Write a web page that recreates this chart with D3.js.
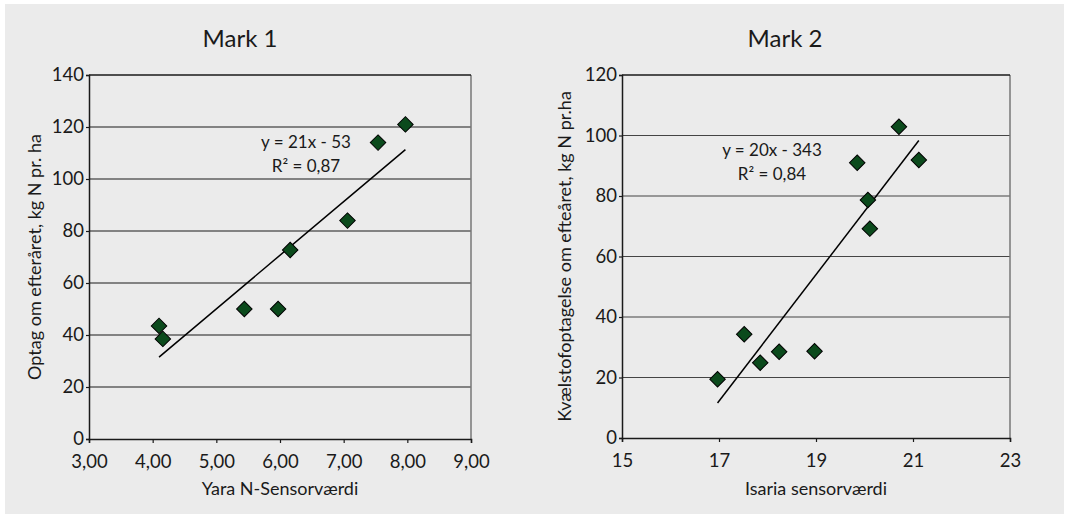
<!DOCTYPE html>
<html>
<head>
<meta charset="utf-8">
<script src="https://cdn.jsdelivr.net/npm/d3@7"></script>
<style>
  body { margin: 0; background: #ffffff; }
  svg text { font-family: Lato, "Open Sans", sans-serif; fill: #1a1a1a; }
</style>
</head>
<body>
<div class="chart"></div>
<script>
let width = 1066,
    height = 514;

// Mark 1 (Yara N-Sensor)
const mark1X = [7.97, 7.54, 7.06, 6.16, 5.44, 5.97, 4.10, 4.16];
const mark1Y = [121, 114, 84, 72.7, 50, 50, 43.5, 38.5];
const mark1XTicks = [3, 4, 5, 6, 7, 8, 9];
const mark1YTicks = [0, 20, 40, 60, 80, 100, 120, 140];

// Mark 2 (Isaria)
const mark2X = [20.71, 19.85, 21.12, 20.07, 20.11, 17.52, 16.97, 17.85, 18.24, 18.97];
const mark2Y = [102.9, 91, 91.9, 78.7, 69.2, 34.3, 19.4, 24.9, 28.5, 28.7];
const mark2XTicks = [15, 17, 19, 21, 23];
const mark2YTicks = [0, 20, 40, 60, 80, 100, 120];

const titles = ["Mark 1", "Mark 2"];
const xLabels = ["Yara N-Sensorværdi", "Isaria sensorværdi"];
const yLabels = ["Optag om efteråret, kg N pr. ha", "Kvælstofoptagelse om efteåret, kg N pr.ha"];
const equations = [["y = 21x - 53", "R² = 0,87"], ["y = 20x - 343", "R² = 0,84"]];

const panels = [
    {
        xs: mark1X, ys: mark1Y, xTicks: mark1XTicks, yTicks: mark1YTicks,
        left: 89, right: 471, top: 75, bottom: 439,
        titleX: 240, yLabelX: 35, eqX: 306, eqY: 148,
        fmt: d => d3.format(".2f")(d).replace(".", ","),
        gridColor: "#1a1a1a", frameColor: "#777"
    },
    {
        xs: mark2X, ys: mark2Y, xTicks: mark2XTicks, yTicks: mark2YTicks,
        left: 622, right: 1010, top: 75, bottom: 438,
        titleX: 785, yLabelX: 565, eqX: 772, eqY: 156,
        fmt: d => String(d),
        gridColor: "#444", frameColor: "#777"
    }
];

function fitLine(xs, ys) {
    const mx = d3.mean(xs), my = d3.mean(ys);
    let sxy = 0, sxx = 0;
    xs.forEach((x, i) => {
        sxy += (x - mx) * (ys[i] - my);
        sxx += (x - mx) * (x - mx);
    });
    const slope = sxy / sxx;
    return { slope: slope, intercept: my - slope * mx };
}

let svg = d3.select(".chart").append("svg")
    .attr("width", width)
    .attr("height", height);

svg.append("rect")
    .attr("x", 5).attr("y", 4)
    .attr("width", 1059).attr("height", 510)
    .style("fill", "#ebebeb");

panels.forEach((p, k) => {
    let x = d3.scaleLinear()
        .domain(d3.extent(p.xTicks))
        .range([p.left, p.right]);
    let y = d3.scaleLinear()
        .domain(d3.extent(p.yTicks))
        .range([p.bottom, p.top]);

    let g = svg.append("g");

    // grid lines
    g.selectAll(".grid")
        .data(p.yTicks.slice(1, -1))
        .enter().append("line")
        .attr("x1", p.left).attr("x2", p.right)
        .attr("y1", d => y(d)).attr("y2", d => y(d))
        .style("stroke", p.gridColor)
        .style("stroke-width", 1.2);

    // frame
    g.append("line")
        .attr("x1", p.right).attr("x2", p.right)
        .attr("y1", p.top).attr("y2", p.bottom)
        .style("stroke", p.frameColor).style("stroke-width", 1.5);
    g.append("line")
        .attr("x1", p.left).attr("x2", p.right)
        .attr("y1", p.top).attr("y2", p.top)
        .style("stroke", "#1a1a1a").style("stroke-width", 1.5);

    // axes
    let xAxis = g.append("g")
        .attr("transform", `translate(0,${p.bottom})`)
        .call(d3.axisBottom(x).tickValues(p.xTicks).tickFormat(p.fmt).tickSize(4).tickPadding(12));
    let yAxis = g.append("g")
        .attr("transform", `translate(${p.left},0)`)
        .call(d3.axisLeft(y).tickValues(p.yTicks).tickSize(3).tickPadding(2));

    [xAxis, yAxis].forEach(a => {
        a.select(".domain").style("stroke", "#1a1a1a").style("stroke-width", 1.5);
        a.selectAll(".tick line").style("stroke", "#1a1a1a").style("stroke-width", 1.2);
        a.selectAll("text")
            .style("font-size", "18.5px")
            .style("fill", "#1a1a1a");
    });

    // trend line
    let fit = fitLine(p.xs, p.ys);
    let xr = d3.extent(p.xs);
    g.append("line")
        .attr("x1", x(xr[0])).attr("y1", y(fit.slope * xr[0] + fit.intercept))
        .attr("x2", x(xr[1])).attr("y2", y(fit.slope * xr[1] + fit.intercept))
        .style("stroke", "#000")
        .style("stroke-width", 1.5);

    // points
    let diamond = d3.symbol().type(d3.symbolSquare).size(120);
    g.selectAll(".pt")
        .data(p.xs.map((v, i) => ({ x: v, y: p.ys[i] })))
        .enter().append("path")
        .attr("d", diamond)
        .attr("transform", d => `translate(${x(d.x)},${y(d.y)}) rotate(45)`)
        .style("fill", "#0b4a1c")
        .style("stroke", "#000")
        .style("stroke-width", 1);

    // equation
    g.append("text")
        .attr("x", p.eqX).attr("y", p.eqY)
        .attr("text-anchor", "middle")
        .style("font-size", "17px")
        .text(equations[k][0]);
    g.append("text")
        .attr("x", p.eqX).attr("y", p.eqY + 24)
        .attr("text-anchor", "middle")
        .style("font-size", "17px")
        .text(equations[k][1]);

    // title
    g.append("text")
        .attr("x", p.titleX).attr("y", 47)
        .attr("text-anchor", "middle")
        .style("font-size", "24px")
        .text(titles[k]);

    // x label
    g.append("text")
        .attr("x", (p.left + p.right) / 2).attr("y", 495)
        .attr("text-anchor", "middle")
        .style("font-size", "18px")
        .text(xLabels[k]);

    // y label
    g.append("text")
        .attr("transform", `translate(${p.yLabelX},${(p.top + p.bottom) / 2}) rotate(-90)`)
        .attr("dy", "0.35em")
        .attr("text-anchor", "middle")
        .style("font-size", "18px")
        .text(yLabels[k]);
});
</script>
</body>
</html>
